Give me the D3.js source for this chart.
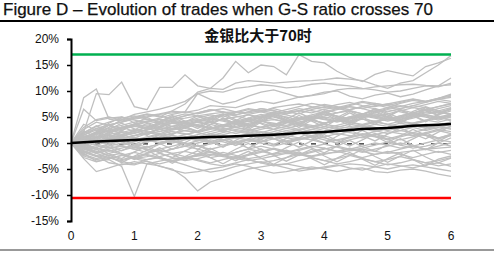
<!DOCTYPE html>
<html>
<head>
<meta charset="utf-8">
<script src="https://cdn.jsdelivr.net/npm/d3@7"></script>
<style>
  body { margin: 0; background: #fff; }
  svg { display: block; font-family: "Liberation Sans", Arial, sans-serif; }
</style>
</head>
<body>
<div id="chart"></div>
<script>
// x ticks (years after crossing) and y ticks (%)
var xTicks = [0, 1, 2, 3, 4, 5, 6];
var yTicks = [20, 15, 10, 5, 0, -5, -10, -15];
var step = 0.2; // 31 points per trade path

var upperBand = 17;
var lowerBand = -10.6;

// average of all trades
var meanPath = [0,0.15,0.3,0.4,0.5,0.6,0.7,0.8,0.85,0.95,1.05,1.15,1.2,1.3,1.4,1.5,
  1.6,1.75,1.9,2.0,2.1,2.3,2.5,2.7,2.8,2.9,3.1,3.3,3.4,3.5,3.65];

// individual trade paths (%)
var tradePaths = [
  [0,8.7,10.4,4.6,4.2,4.8,5.2,5.6,6.1,5.9,6.3,7.2,7.0,6.8,7.5,8.0,7.6,8.2,8.8,9.1,9.5,10.2,10.5,10.4,10.8,11.0,11.2,11.3,11.1,11.0,11.2],
  [0,6.5,4.3,4.8,5.0,4.4,3.9,3.2,4.5,4.8,5.2,5.6,5.9,6.0,5.8,6.2,6.6,6.0,5.6,6.4,7.0,6.6,7.2,7.8,7.4,6.8,7.6,8.2,7.8,8.6,9.4],
  [0,2.1,9.5,9.3,11.7,7.0,6.4,10.7,10.7,13.1,11.0,10.5,12.5,15.7,13.5,15.0,14.7,13.1,17.0,15.7,15.4,13.8,12.6,11.8,13.2,13.9,13.4,12.9,14.7,15.4,16.3],
  [0,1.5,2.8,3.5,4.0,4.8,5.5,5.0,6.2,7.5,9.8,10.5,10.3,11.5,12.0,11.8,11.5,11.7,11.9,12.0,12.2,12.5,12.3,12.0,11.2,10.5,11.5,12.0,13.5,15.0,16.8],
  [0,1.0,2.0,3.0,4.5,5.5,6.0,6.5,7.2,8.0,9.5,10.0,9.8,10.5,10.8,11.2,11.0,10.6,10.8,11.3,11.5,11.2,11.0,10.5,10.2,9.8,10.0,10.5,11.0,10.8,11.5],
  [0,0.8,1.8,2.5,3.0,3.6,4.2,4.8,5.5,6.0,9.5,8.4,7.5,8.0,9.0,9.8,10.2,9.5,8.8,9.2,9.8,10.0,9.0,8.5,9.2,9.6,8.9,9.4,10.2,11.0,12.5],
  [0,-2.0,-3.5,-3.2,-4.5,-10.3,-4.0,-3.5,-3.0,-2.8,-2.5,-2.2,-2.6,-3.0,-3.4,-3.0,-2.5,-2.0,-2.2,-2.5,-2.0,-1.8,-1.5,-1.2,-1.6,-2.0,-1.8,-1.5,-1.2,-1.0,-0.8],
  [0,-3.0,-5.5,-4.8,-4.0,-4.2,-3.5,-4.5,-5.0,-6.7,-9.2,-7.5,-6.7,-5.8,-5.0,-4.6,-4.2,-4.0,-4.5,-5.0,-4.8,-4.4,-4.0,-4.2,-4.6,-5.0,-4.5,-4.2,-4.6,-5.0,-5.4],
  [0,-1.5,-2.5,-3.8,-4.2,-3.6,-4.0,-4.4,-5.2,-5.8,-5.5,-5.0,-4.6,-4.0,-4.5,-5.2,-5.8,-5.5,-5.0,-4.6,-5.0,-5.5,-5.0,-4.8,-5.5,-5.7,-5.2,-5.0,-5.4,-6.0,-6.4],
  [0,-2.5,-3.2,-2.8,-3.6,-4.0,-3.2,-2.8,-3.5,-4.2,-5.0,-5.6,-5.2,-4.5,-4.0,-3.6,-4.2,-4.8,-5.4,-5.0,-4.6,-4.2,-4.8,-5.2,-4.6,-4.0,-4.4,-4.8,-4.2,-3.8,-4.5],
  [0,0.5,1.2,2.0,2.8,3.2,3.5,3.0,3.8,4.2,4.5,4.0,4.6,5.0,5.4,5.0,5.6,6.0,6.2,5.8,6.5,6.8,7.0,6.6,7.2,7.5,7.0,7.6,8.0,8.4,8.8],
  [0,1.0,2.2,3.5,4.0,4.6,5.0,5.5,5.8,6.0,5.6,6.2,6.6,6.0,5.5,6.0,6.8,7.2,7.5,7.0,6.8,7.4,7.8,7.2,7.0,7.5,8.0,8.5,8.0,8.6,9.2],
  [0,0.2,0.8,1.5,1.2,2.0,2.5,3.0,2.6,3.2,3.6,4.0,3.5,3.0,3.5,4.2,4.5,4.0,4.6,5.0,4.5,4.2,4.8,5.2,5.6,5.0,4.6,5.2,5.8,6.0,6.5],
  [0,-0.5,0.2,0.8,1.5,1.0,1.8,2.2,2.8,2.4,2.0,2.6,3.2,3.8,3.4,3.0,3.5,4.0,3.6,3.2,3.8,4.4,4.0,3.6,4.2,4.6,4.2,3.8,4.4,5.0,5.5],
  [0,0.8,0.4,1.2,2.0,2.6,2.2,1.8,2.5,3.0,3.5,3.0,2.6,3.2,3.8,4.2,3.8,3.4,4.0,4.5,5.0,4.6,4.2,4.8,5.4,5.0,4.5,5.0,5.5,6.0,5.6],
  [0,1.5,2.5,2.0,1.5,2.2,3.0,3.6,4.2,3.8,3.2,2.8,3.5,4.2,4.8,5.5,5.0,4.4,4.0,4.6,5.2,5.8,6.2,5.6,5.0,5.6,6.2,6.8,6.4,7.0,7.6],
  [0,-1.0,-0.5,0.5,1.0,0.6,1.2,1.8,1.4,1.0,1.6,2.2,2.8,2.4,2.0,2.6,3.2,2.8,2.4,3.0,3.6,3.2,2.8,3.4,4.0,3.6,3.2,3.8,4.4,4.0,4.6],
  [0,0.3,-0.4,-1.0,-0.5,0.2,0.8,0.4,0.0,0.6,1.2,1.8,1.4,1.0,1.6,2.2,1.8,1.4,2.0,2.6,3.2,2.8,2.4,3.0,3.6,3.2,2.8,3.4,2.9,3.5,4.0],
  [0,-1.8,-2.6,-2.0,-1.4,-0.8,-1.2,-1.8,-1.2,-0.6,0.0,0.6,0.2,-0.4,0.2,0.8,1.4,1.0,0.6,1.2,1.8,2.4,2.0,1.6,2.2,2.8,2.4,2.0,2.6,3.2,2.8],
  [0,-0.8,-1.6,-2.4,-2.0,-2.8,-3.2,-2.6,-2.0,-1.6,-2.2,-2.8,-2.4,-1.8,-1.2,-1.6,-2.2,-1.8,-1.2,-0.6,-1.0,-1.6,-1.2,-0.6,0.0,-0.4,-1.0,-0.6,0.0,0.6,0.2],
  [0,0.6,1.4,0.8,1.6,2.4,3.0,3.8,4.4,4.0,4.8,5.4,5.0,5.8,6.4,6.0,5.4,6.0,6.6,6.2,5.8,6.4,7.0,6.6,6.0,6.6,7.2,6.8,7.4,8.0,7.6],
  [0,-0.3,0.5,0.0,-0.6,-1.2,-0.8,-0.2,0.4,0.0,-0.6,-0.2,0.4,1.0,0.6,0.2,0.8,1.4,1.0,0.6,1.2,1.8,1.4,1.0,1.6,2.2,1.8,1.4,2.0,2.6,2.2],
  [0,1.2,2.0,2.8,3.4,4.0,4.6,4.2,5.0,5.6,5.2,4.8,5.4,6.0,6.6,6.2,5.8,6.4,7.0,7.6,7.2,6.8,7.4,8.0,7.6,7.2,7.8,8.4,8.0,8.6,9.0],
  [0,-1.2,-2.0,-1.4,-2.2,-3.0,-2.6,-2.0,-2.8,-3.4,-3.0,-2.4,-1.8,-2.4,-3.0,-2.6,-2.0,-1.4,-2.0,-2.6,-2.2,-1.6,-1.0,-1.6,-2.2,-1.8,-1.2,-0.6,-1.2,-1.8,-1.4],
  [0,0.4,1.0,1.6,2.2,1.8,2.6,3.2,3.8,3.4,4.0,4.6,4.2,3.6,4.2,4.8,5.4,5.0,4.4,5.0,5.6,5.2,4.6,5.2,5.8,6.4,6.0,5.4,6.0,6.6,7.2],
  [0,0.9,0.3,-0.3,0.4,1.0,0.6,1.2,1.8,2.4,2.0,1.4,2.0,2.6,2.2,1.6,2.2,2.8,3.4,3.0,2.4,3.0,3.6,3.2,2.6,3.2,3.8,3.4,2.8,3.4,4.0],
  [0,-2.2,-3.0,-2.4,-3.2,-2.6,-2.0,-1.4,-2.0,-2.6,-3.2,-3.8,-3.2,-2.6,-3.2,-3.8,-3.4,-2.8,-2.2,-2.8,-3.4,-3.0,-2.4,-3.0,-3.6,-3.2,-2.6,-3.2,-3.8,-3.4,-2.8],
  [0,2.0,3.2,4.0,4.8,5.2,4.6,4.0,4.6,5.2,5.8,6.4,6.0,5.4,6.0,6.6,6.2,5.6,6.2,6.8,7.4,7.0,6.4,7.0,7.6,7.2,6.6,7.2,7.8,8.4,8.0],
  [0,0.1,0.6,0.2,0.8,1.4,2.0,1.6,1.0,1.6,2.2,2.8,3.4,3.0,2.4,3.0,3.6,3.2,2.6,3.2,3.8,4.4,4.0,3.4,4.0,4.6,4.2,3.6,4.2,4.8,5.2],
  [0,-0.6,-1.2,-0.6,0.0,-0.6,-1.2,-1.8,-1.2,-0.6,-1.2,-1.8,-2.4,-1.8,-1.2,-0.6,-1.2,-1.8,-1.4,-0.8,-0.2,-0.8,-1.4,-1.0,-0.4,0.2,-0.4,-1.0,-0.6,0.0,-0.6],
  [0,1.6,1.0,2.0,2.6,3.2,2.8,2.2,2.8,3.4,4.0,3.6,3.0,3.6,4.2,3.8,3.2,3.8,4.4,5.0,4.6,4.0,4.6,5.2,4.8,4.2,4.8,5.4,5.0,4.4,5.0],
  [0,0.7,1.8,2.4,2.0,1.4,2.0,2.6,2.2,1.6,2.2,2.8,2.4,1.8,2.4,3.0,2.6,2.0,2.6,3.2,2.8,2.2,2.8,3.4,3.0,2.4,3.0,3.6,3.2,2.6,3.2],
  [0,-0.2,-1.0,-1.6,-1.0,-0.4,0.2,0.8,0.4,-0.2,0.4,1.0,0.6,0.0,0.6,1.2,0.8,0.2,0.8,1.4,1.0,0.4,1.0,1.6,1.2,0.6,1.2,1.8,1.4,0.8,1.4],
  [0,2.6,4.0,3.4,2.8,3.4,4.0,4.6,4.2,3.6,4.2,4.8,4.4,3.8,4.4,5.0,4.6,4.0,4.6,5.2,4.8,4.2,4.8,5.4,5.0,4.4,5.0,5.6,5.2,4.6,5.2],
  [0,-1.4,-0.8,-0.2,0.4,1.0,0.6,0.0,0.6,1.2,0.8,0.2,-0.4,0.2,0.8,0.4,-0.2,0.4,1.0,0.6,0.0,0.6,1.2,1.8,1.4,0.8,1.4,2.0,1.6,1.0,1.6],
  [0,0.5,1.0,1.5,1.0,0.4,1.0,1.6,2.2,1.8,1.2,1.8,2.4,3.0,2.6,2.0,2.6,3.2,3.8,3.4,2.8,3.4,4.0,4.6,4.2,3.6,4.2,4.8,5.4,5.0,4.4],
  [0,-0.9,-1.8,-1.2,-0.6,-1.2,-1.8,-1.2,-0.6,0.0,-0.6,-1.2,-0.6,0.0,0.6,0.0,-0.6,0.0,0.6,1.2,0.6,0.0,0.6,1.2,1.8,1.2,0.6,1.2,1.8,2.4,1.8],
  [0,1.8,2.8,2.2,3.0,3.6,3.2,2.6,3.2,3.8,3.4,2.8,3.4,4.0,4.6,4.2,3.6,4.2,4.8,4.4,3.8,4.4,5.0,5.6,5.2,4.6,5.2,5.8,5.4,4.8,5.4],
  [0,-1.6,-2.4,-3.0,-2.4,-1.8,-2.4,-3.0,-3.6,-3.0,-2.4,-1.8,-2.4,-3.0,-2.4,-1.8,-1.2,-1.8,-2.4,-1.8,-1.2,-0.6,-1.2,-1.8,-1.2,-0.6,0.0,-0.6,-1.2,-0.6,0.0],
  [0,0.2,0.0,0.6,1.2,0.8,0.2,0.8,1.4,1.0,0.4,1.0,1.6,2.2,1.8,1.2,1.8,2.4,2.0,1.4,2.0,2.6,3.2,2.8,2.2,2.8,3.4,3.0,2.4,3.0,3.6],
  [0,3.0,4.5,5.0,4.4,5.0,5.6,5.2,4.6,5.2,5.8,6.4,6.0,5.4,6.0,6.6,6.2,5.6,6.2,6.8,6.4,5.8,6.4,7.0,6.6,6.0,6.6,7.2,6.8,6.2,6.8],
  [0,-2.8,-3.6,-3.0,-2.4,-3.0,-3.6,-4.0,-3.4,-2.8,-3.4,-4.0,-4.4,-3.8,-3.2,-3.8,-4.4,-4.0,-3.4,-2.8,-3.4,-4.0,-3.6,-3.0,-3.6,-4.2,-3.8,-3.2,-3.8,-4.4,-4.0],
  [0,1.1,2.0,1.4,0.8,1.4,2.0,2.6,3.2,2.8,2.2,2.8,3.4,4.0,3.6,3.0,3.6,4.2,4.8,4.4,3.8,4.4,5.0,5.6,5.2,4.6,5.2,5.8,6.4,6.0,5.4],
  [0,-0.4,0.4,1.0,0.4,-0.2,-0.8,-0.2,0.4,1.0,0.6,0.0,0.6,1.2,1.8,1.4,0.8,1.4,2.0,2.6,2.2,1.6,2.2,2.8,2.4,1.8,2.4,3.0,3.6,3.2,2.6],
  [0,0.9,1.6,2.4,3.0,3.6,4.2,3.8,3.2,3.8,4.4,5.0,5.6,5.2,4.6,5.2,5.8,5.4,4.8,5.4,6.0,6.6,6.2,5.6,6.2,6.8,6.4,5.8,6.4,7.0,7.5],
  [0,-1.0,-2.0,-2.8,-3.4,-2.8,-2.2,-2.8,-3.4,-2.8,-2.2,-1.6,-2.2,-2.8,-2.2,-1.6,-1.0,-1.6,-2.2,-1.6,-1.0,-1.6,-2.2,-2.8,-2.2,-1.6,-2.2,-2.8,-2.2,-1.6,-2.2],
  [0,1.3,0.5,1.8,3.1,2.2,1.5,2.9,4.0,3.1,2.3,3.6,4.7,3.8,2.9,4.2,5.3,4.4,3.5,4.9,6.0,5.1,4.2,5.5,6.6,5.7,4.8,6.1,7.0,6.2,5.4],
  [0,-0.7,0.6,-0.4,-1.5,-0.3,0.9,-0.1,-1.2,0.1,1.3,0.3,-0.8,0.5,1.7,0.7,-0.4,0.9,2.1,1.0,0.0,1.3,2.5,1.4,0.4,1.7,2.9,1.8,0.8,2.1,3.2],
  [0,2.3,1.1,2.6,3.8,2.7,1.6,3.0,4.3,3.2,2.1,3.5,4.8,3.7,2.6,4.0,5.2,4.1,3.0,4.4,5.6,4.5,3.4,4.8,6.0,4.9,3.8,5.2,6.3,5.2,4.2],
  [0,-1.9,-0.8,-2.1,-3.0,-1.7,-0.6,-1.9,-2.8,-1.5,-0.4,-1.6,-2.5,-1.2,-0.1,-1.3,-2.2,-0.9,0.2,-1.0,-1.9,-0.6,0.5,-0.7,-1.6,-0.3,0.8,-0.4,-1.3,0.0,1.0],
  [0,0.4,1.9,0.9,2.4,3.6,2.5,3.9,5.0,3.8,2.8,4.1,5.3,4.2,3.1,4.4,5.6,4.5,3.4,4.7,5.9,4.8,3.7,5.0,6.2,5.1,4.0,5.3,6.4,5.4,6.2],
  [0,-0.1,-1.3,-0.2,0.9,-0.3,-1.4,-0.2,1.0,-0.1,-1.2,0.0,1.2,0.1,-1.0,0.2,1.4,0.3,-0.8,0.4,1.6,0.5,-0.6,0.6,1.8,0.7,-0.4,0.8,2.0,0.9,1.7],
  [0,3.6,2.4,3.8,5.0,3.9,2.8,4.1,5.3,4.2,3.1,4.4,5.6,4.5,3.4,4.7,5.9,4.8,3.7,5.0,6.2,5.1,4.0,5.3,6.5,5.4,4.3,5.6,6.8,5.7,6.4],
  [0,-2.4,-1.2,-2.6,-3.8,-2.5,-1.4,-2.7,-3.9,-2.6,-1.5,-2.8,-4.0,-2.7,-1.6,-2.9,-4.1,-2.8,-1.7,-3.0,-4.2,-2.9,-1.8,-3.1,-4.3,-3.0,-1.9,-3.2,-4.4,-3.1,-2.5],
  [0,1.9,3.3,2.2,1.1,2.5,3.8,2.7,1.6,3.0,4.3,3.2,2.1,3.5,4.8,3.7,2.6,4.0,5.3,4.2,3.1,4.5,5.8,4.7,3.6,5.0,6.3,5.2,4.1,5.5,6.6],
  [0,-1.1,0.2,1.4,0.3,-0.9,0.4,1.6,0.5,-0.7,0.6,1.8,0.7,-0.5,0.8,2.0,0.9,-0.3,1.0,2.2,1.1,-0.1,1.2,2.4,1.3,0.1,1.4,2.6,1.5,0.3,1.6],
  [0,0.6,2.1,3.4,2.3,3.7,4.9,3.8,2.7,4.0,5.2,4.1,3.0,4.3,5.5,4.4,3.3,4.6,5.8,4.7,3.6,4.9,6.1,5.0,3.9,5.2,6.4,5.3,4.2,5.5,6.7],
  [0,-0.5,-1.9,-0.8,-2.1,-3.2,-2.0,-0.9,-2.2,-3.3,-2.1,-1.0,-2.3,-3.4,-2.2,-1.1,-2.4,-3.5,-2.3,-1.2,-2.5,-3.6,-2.4,-1.3,-2.6,-3.7,-2.5,-1.4,-2.7,-3.8,-2.9]
];

var width = 494, height = 254;
var margin = {top: 39, right: 43, bottom: 33, left: 71};

var svg = d3.select("#chart").append("svg")
  .attr("width", width)
  .attr("height", height);

var x = d3.scaleLinear().domain([0, 6]).range([margin.left, width - margin.right]);
var y = d3.scaleLinear().domain([-15, 20]).range([height - margin.bottom, margin.top]);

// header
svg.append("text")
  .attr("x", 3)
  .attr("y", 15)
  .attr("font-size", 17)
  .attr("fill", "#111")
  .attr("stroke", "#111")
  .attr("stroke-width", 0.25)
  .text("Figure D \u2013 Evolution of trades when G-S ratio crosses 70");

svg.append("rect")
  .attr("x", 0).attr("y", 20)
  .attr("width", width).attr("height", 2)
  .attr("fill", "#000");

svg.append("rect")
  .attr("x", 0).attr("y", 249)
  .attr("width", width).attr("height", 2)
  .attr("fill", "#999");

var line = d3.line()
  .x(function(d, i) { return x(i * step); })
  .y(function(d) { return y(d); });

// zero line, mostly hidden under the trades
svg.append("line")
  .attr("x1", x(0)).attr("x2", x(6))
  .attr("y1", y(-0.15)).attr("y2", y(-0.15))
  .attr("stroke", "#222")
  .attr("stroke-width", 1.2)
  .attr("stroke-dasharray", "5,7");

svg.append("g").selectAll("path")
  .data(tradePaths)
  .enter().append("path")
  .attr("d", line)
  .attr("fill", "none")
  .attr("stroke", "#bfbfbf")
  .attr("stroke-width", 1.3);

svg.append("line")
  .attr("x1", x(0)).attr("x2", x(6))
  .attr("y1", y(upperBand)).attr("y2", y(upperBand))
  .attr("stroke", "#00b050").attr("stroke-width", 2.5);

svg.append("line")
  .attr("x1", x(0)).attr("x2", x(6))
  .attr("y1", y(lowerBand)).attr("y2", y(lowerBand))
  .attr("stroke", "#ff0000").attr("stroke-width", 2.5);

svg.append("path")
  .datum(meanPath)
  .attr("d", line)
  .attr("fill", "none")
  .attr("stroke", "#000")
  .attr("stroke-width", 2.5);

// y axis
var yAxis = svg.append("g")
  .attr("transform", "translate(" + margin.left + ",0)")
  .call(d3.axisLeft(y).tickValues(yTicks).tickSize(4).tickPadding(8)
    .tickFormat(function(d) { return d + "%"; }));
yAxis.select(".domain").attr("stroke", "#000").attr("stroke-width", 2);
yAxis.selectAll(".tick line").attr("stroke", "#000").attr("stroke-width", 1.5);
yAxis.selectAll("text")
  .attr("font-size", 12)
  .attr("font-family", "Liberation Sans, Arial, sans-serif")
  .attr("fill", "#111");

// x tick labels (no axis line)
svg.append("g").selectAll("text")
  .data(xTicks)
  .enter().append("text")
  .attr("x", function(d) { return x(d); })
  .attr("y", 240)
  .attr("text-anchor", "middle")
  .attr("font-size", 12)
  .attr("fill", "#111")
  .text(function(d) { return d; });

svg.append("text")
  .attr("x", 258)
  .attr("y", 41)
  .attr("text-anchor", "middle")
  .attr("font-size", 15)
  .attr("font-weight", "bold")
  .attr("font-family", "Noto Sans CJK SC, sans-serif")
  .attr("fill", "#111")
  .text("金银比大于70时");
</script>
</body>
</html>
